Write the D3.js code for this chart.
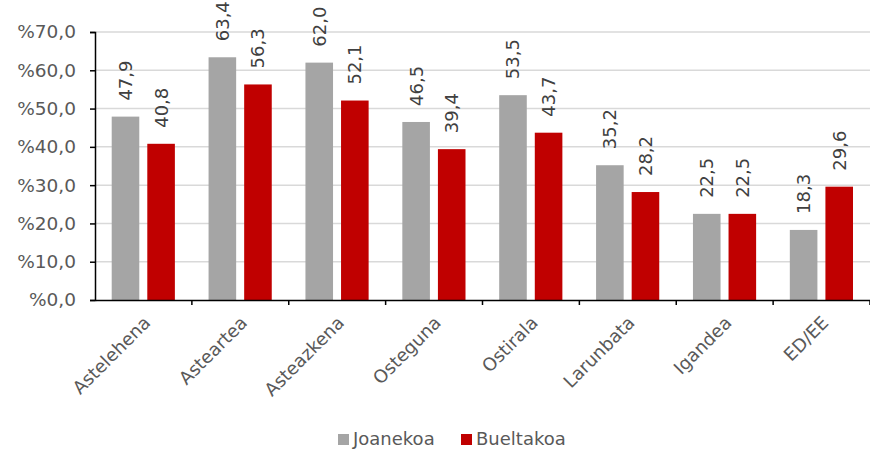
<!DOCTYPE html>
<html>
<head>
<meta charset="utf-8">
<script src="https://cdn.jsdelivr.net/npm/d3@7.9.0/dist/d3.min.js"></script>
<style>
  body { margin: 0; background: #fff; }
  svg { display: block; font-family: Verdana, "DejaVu Sans", sans-serif; }
</style>
</head>
<body>
<svg id="chart" width="870" height="450"></svg>
<script>
const categories = ['Astelehena', 'Asteartea', 'Asteazkena', 'Osteguna', 'Ostirala', 'Larunbata', 'Igandea', 'ED/EE'];
const seriesNames = ['Joanekoa', 'Bueltakoa'];
const joanekoa = [47.9, 63.4, 62.0, 46.5, 53.5, 35.2, 22.5, 18.3];
const bueltakoa = [40.8, 56.3, 52.1, 39.4, 43.7, 28.2, 22.5, 29.6];
const yTicks = [0, 10, 20, 30, 40, 50, 60, 70];

const colors = ['#a5a5a5', '#c00000'];
const fmt = v => v.toFixed(1).replace('.', ',');

const svg = d3.select('#chart');
const margin = { left: 95, right: 0, top: 32, bottom: 150 };
const width = 870, height = 450;

const x = d3.scaleBand()
  .domain(categories)
  .range([margin.left, width - margin.right])
  .paddingInner(0).paddingOuter(0);

const x1 = d3.scaleBand()
  .domain(seriesNames)
  .range([16.7, x.bandwidth() - 17])
  .paddingInner(0.225);

const y = d3.scaleLinear()
  .domain([0, 70])
  .range([height - margin.bottom, margin.top]);

// gridlines
svg.append('g')
  .selectAll('line')
  .data(yTicks.slice(1))
  .join('line')
  .attr('x1', margin.left)
  .attr('x2', width - margin.right)
  .attr('y1', d => y(d))
  .attr('y2', d => y(d))
  .attr('stroke', '#d9d9d9')
  .attr('stroke-width', 1.5);

const rows = categories.map((c, i) => ({ cat: c, values: [joanekoa[i], bueltakoa[i]] }));

const groups = svg.append('g')
  .selectAll('g')
  .data(rows)
  .join('g')
  .attr('transform', d => `translate(${x(d.cat)},0)`);

groups.selectAll('rect')
  .data(d => d.values.map((v, k) => ({ key: seriesNames[k], v, k })))
  .join('rect')
  .attr('x', d => x1(d.key))
  .attr('width', x1.bandwidth())
  .attr('y', d => y(d.v))
  .attr('height', d => y(0) - y(d.v))
  .attr('fill', d => colors[d.k]);

groups.selectAll('text')
  .data(d => d.values.map((v, k) => ({ key: seriesNames[k], v, k })))
  .join('text')
  .attr('transform', d => `translate(${x1(d.key) + x1.bandwidth() / 2},${y(d.v) - 16}) rotate(-90)`)
  .attr('dominant-baseline', 'central')
  .attr('font-size', 18)
  .attr('fill', '#404040')
  .text(d => fmt(d.v));

// y axis
const yAxis = svg.append('g')
  .attr('transform', `translate(${margin.left},0)`)
  .call(d3.axisLeft(y).tickValues(yTicks).tickSize(5).tickFormat(d => '%' + fmt(d)));
yAxis.select('.domain').attr('stroke', '#000').attr('stroke-width', 1.5);
yAxis.selectAll('.tick line').attr('stroke', '#000').attr('stroke-width', 1.5);
yAxis.selectAll('.tick text')
  .attr('x', -19)
  .attr('font-size', 18.5)
  .attr('font-family', 'Verdana, "DejaVu Sans", sans-serif')
  .attr('fill', '#595959');

// x axis
const xAxis = svg.append('g')
  .attr('transform', `translate(0,${y(0)})`)
  .call(d3.axisBottom(x).tickSize(0).tickSizeOuter(0));
xAxis.select('.domain').attr('stroke', '#000').attr('stroke-width', 1.5);
xAxis.selectAll('.tick text')
  .attr('font-size', 18)
  .attr('font-family', 'Verdana, "DejaVu Sans", sans-serif')
  .attr('fill', '#595959')
  .attr('text-anchor', 'end')
  .attr('dy', null)
  .attr('y', 0)
  .attr('transform', 'translate(8,24) rotate(-45)');

// category boundary ticks
svg.append('g')
  .selectAll('line')
  .data(categories)
  .join('line')
  .attr('x1', d => x(d) + x.bandwidth())
  .attr('x2', d => x(d) + x.bandwidth())
  .attr('y1', y(0))
  .attr('y2', y(0) + 5)
  .attr('stroke', '#000')
  .attr('stroke-width', 1.5);

// legend
const legendX = [338, 461];
const legend = svg.append('g');
seriesNames.forEach((name, k) => {
  legend.append('rect')
    .attr('x', legendX[k]).attr('y', 434)
    .attr('width', 11).attr('height', 11)
    .attr('fill', colors[k]);
  legend.append('text')
    .attr('x', legendX[k] + 15).attr('y', 445)
    .attr('font-size', 18)
    .attr('fill', '#595959')
    .text(name);
});
</script>
</body>
</html>
